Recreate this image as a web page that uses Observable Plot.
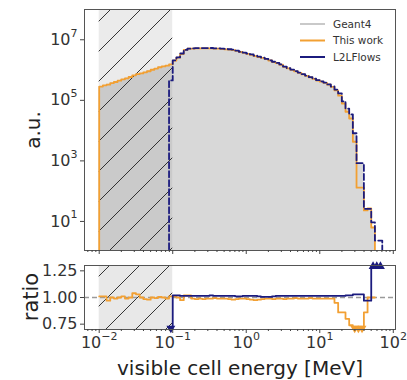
<!DOCTYPE html>
<html><head><meta charset="utf-8">
<script src="https://cdn.jsdelivr.net/npm/d3@7"></script>
<script src="https://cdn.jsdelivr.net/npm/@observablehq/plot@0.6"></script>
<style>
html,body{margin:0;padding:0;background:#fff;}
#fig{position:relative;width:407px;height:380px;overflow:hidden;font-family:"DejaVu Sans",sans-serif;color:#222;}
#fig svg{position:absolute;left:0;}
</style></head><body>
<svg width="0" height="0" style="position:absolute">
<defs>
<pattern id="hatch" patternUnits="userSpaceOnUse" width="30" height="30">
<path d="M-2,2 L2,-2 M0,30 L30,0 M28,32 L32,28" stroke="#2a2a2a" stroke-width="0.95" fill="none"/>
</pattern>
</defs></svg>
<div id="fig"></div>
<script>
// ---- binning (log bins, 20 per decade starting at 1e-2) ----
const binsPerDecade = 20;
const firstEdgeExp = -2;

// ---- Geant4 histogram, log10(counts) per bin ----
const g4Log = [5.45,5.49,5.53,5.57,5.61,5.65,5.69,5.73,5.77,5.81,5.85,5.89,5.93,5.97,6.01,6.05,6.09,6.12,6.15,6.18,
 6.31,6.41,6.54,6.66,6.70,6.71,6.72,6.72,6.72,6.72,6.72,6.71,6.71,6.70,6.69,6.68,6.67,6.64,6.60,6.57,
 6.54,6.51,6.47,6.44,6.41,6.37,6.32,6.27,6.23,6.18,6.11,6.06,6.01,5.96,5.91,5.86,5.81,5.76,5.71,5.66,
 5.62,5.58,5.52,5.45,5.35,5.22,4.96,4.72,4.53,3.90,2.91,2.91,1.43,1.43,0.80,0.00,0.00];

// ---- ratio to Geant4 per bin ----
const thisWorkRatio = [1.01,1.01,0.97,1.00,0.99,1.00,1.01,0.99,1.00,1.04,1.03,1.00,0.985,0.98,1.00,0.995,1.005,1.00,0.99,1.01,
 1.01,1.00,0.975,1.02,1.02,0.99,0.985,0.99,0.985,0.99,0.99,0.995,0.99,0.99,0.99,0.985,0.98,0.985,0.99,0.99,
 0.985,0.98,0.975,0.98,0.985,0.99,0.99,0.985,0.99,0.99,0.985,0.99,0.99,0.995,0.99,0.99,0.99,0.995,0.99,0.99,
 0.99,0.99,0.99,0.99,0.95,0.86,0.86,0.80,0.74,0.54,0.16,0.16,0.86,1.00,1.00,null,null];
const l2lRatio = [null,null,null,null,null,null,null,null,null,null,null,null,null,null,null,null,null,null,null,0.30,
 1.02,1.02,1.015,1.015,1.015,1.015,1.015,1.015,1.015,1.015,1.02,1.015,1.015,1.015,1.015,1.015,1.015,1.01,1.01,1.015,
 1.015,1.015,1.015,1.01,1.005,1.005,1.005,1.01,1.015,1.015,1.015,1.015,1.015,1.015,1.015,1.015,1.015,1.015,1.015,1.015,
 1.015,1.015,1.015,1.015,1.015,1.015,1.015,1.02,1.02,1.03,1.03,1.03,0.97,0.97,1.48,2.34,2.34];

// ---- axes / labels ----
const xMajor = [1e-2, 1e-1, 1e0, 1e1, 1e2];
const yMainTicks = [1e1, 1e3, 1e5, 1e7];
const yRatioTicks = [0.75, 1.00, 1.25];
const hatchRange = [{a: 1e-2, b: 1e-1}];
const legendItems = [
  {name: "Geant4", color: "#c9c9c9"},
  {name: "This work", color: "#f2a033"},
  {name: "L2LFlows", color: "#1b1b7e"}
];
const xLabel = "visible cell energy [MeV]";
const yLabelMain = "a.u.";
const yLabelRatio = "ratio";

const ORANGE = "#f2a033", NAVY = "#1b1b7e", G4FILL = "#d8d8d8";
const nBins = g4Log.length;
const edges = d3.range(nBins + 1).map(k => 10 ** (firstEdgeExp + k / binsPerDecade));
const g4 = g4Log.map(v => 10 ** v);
const tw = g4.map((v, k) => thisWorkRatio[k] == null ? null : v * thisWorkRatio[k]);
const l2l = g4.map((v, k) => l2lRatio[k] == null ? null : v * l2lRatio[k]);

function stepPoints(vals, floor) {
  const idx = vals.map((v, k) => v == null ? -1 : k).filter(k => k >= 0);
  const first = idx[0], last = idx[idx.length - 1];
  const pts = [];
  if (floor != null) pts.push({x: edges[first], y: floor});
  for (let k = first; k <= last; k++) pts.push({x: edges[k], y: vals[k]});
  pts.push({x: edges[last + 1], y: vals[last]});
  if (floor != null) pts.push({x: edges[last + 1], y: floor});
  return pts;
}
const pow10 = d => "10^" + String(Math.round(Math.log10(d))).replace("-", "\u2212");

const xDomain = [10 ** -2.2, 10 ** 2.03];
const xMinor = [];
for (let e = -3; e <= 2; e++) for (let m = 2; m <= 9; m++) {
  const v = m * 10 ** e; if (v > xDomain[0] && v < xDomain[1]) xMinor.push(v);
}
const floor = 1e-2;
const fig = document.getElementById("fig");
const style = {fontFamily: "DejaVu Sans, sans-serif", fontSize: "16px", color: "#333", background: "transparent", overflow: "visible"};

function superscripts(svg) {
  d3.select(svg).selectAll("text").each(function() {
    const t = this.textContent;
    const m = /^10\^(.+)$/.exec(t);
    if (!m) return;
    const sel = d3.select(this);
    sel.text("");
    sel.append("tspan").text("10");
    sel.append("tspan").attr("font-size", "11px").attr("dy", "-0.75em").text(m[1]);
  });
}

// ---- main panel ----
const main = Plot.plot({
  width: 407, height: 262,
  marginLeft: 84, marginRight: 12, marginTop: 9, marginBottom: 12,
  x: {type: "log", domain: xDomain},
  y: {type: "log", domain: [10 ** 0.04, 1e8]},
  style,
  marks: [
    Plot.areaY(stepPoints(g4, floor), {x: "x", y1: () => floor, y2: "y", curve: "step-after", fill: G4FILL, clip: true}),
    Plot.rect(hatchRange, {x1: "a", x2: "b", y1: () => floor, y2: () => 1e9, fill: "#8a8a8a", fillOpacity: 0.17, clip: true}),
    Plot.rect(hatchRange, {x1: "a", x2: "b", y1: () => floor, y2: () => 1e9, fill: "url(#hatch)", clip: true}),
    Plot.line(stepPoints(tw, floor), {x: "x", y: "y", curve: "step-after", stroke: ORANGE, strokeWidth: 1.8, clip: true}),
    Plot.line(stepPoints(l2l, floor), {x: "x", y: "y", curve: "step-after", stroke: NAVY, strokeWidth: 1.8, strokeDasharray: "6,3", clip: true}),
    Plot.frame({stroke: "#555"}),
    Plot.axisX({ticks: xMajor, tickSize: 4, tickFormat: () => "", label: null, stroke: "#444"}),
    Plot.axisX({ticks: xMinor, tickSize: 2, tickFormat: () => "", label: null, stroke: "#444"}),
    Plot.axisY({ticks: yMainTicks, tickSize: 4, tickPadding: 3, tickFormat: pow10, label: null, stroke: "#444"})
  ]
});
main.style.top = "0px";
superscripts(main);
fig.appendChild(main);

// ---- ratio panel ----
const lo = 0.715, hi = 1.29;
const clampVals = arr => arr.map(v => v == null ? null : Math.max(lo, Math.min(hi, v)));
const markers = (arr, color) => arr.map((v, k) => (v != null && (v < lo || v > hi)) ?
  {x: Math.sqrt(edges[k] * edges[k + 1]), y: v < lo ? 0.712 : 1.292, up: v > hi, color} : null).filter(d => d);
const ratioMarkers = [...markers(thisWorkRatio, ORANGE), ...markers(l2lRatio, NAVY)];

const ratio = Plot.plot({
  width: 407, height: 125,
  marginLeft: 84, marginRight: 12, marginTop: 10, marginBottom: 51,
  x: {type: "log", domain: xDomain},
  y: {domain: [0.7, 1.3]},
  style,
  marks: [
    Plot.rect(hatchRange, {x1: "a", x2: "b", y1: () => 0.6, y2: () => 1.4, fill: "#8a8a8a", fillOpacity: 0.2, clip: true}),
    Plot.rect(hatchRange, {x1: "a", x2: "b", y1: () => 0.6, y2: () => 1.4, fill: "url(#hatch)", clip: true}),
    Plot.ruleY([1], {stroke: "#9a9a9a", strokeWidth: 1.5, strokeDasharray: "5,3"}),
    Plot.line(stepPoints(clampVals(thisWorkRatio), null), {x: "x", y: "y", curve: "step-after", stroke: ORANGE, strokeWidth: 1.8, clip: true}),
    Plot.line(stepPoints(clampVals(l2lRatio), null), {x: "x", y: "y", curve: "step-after", stroke: NAVY, strokeWidth: 1.8, clip: true}),
    Plot.dot(ratioMarkers, {x: "x", y: "y", symbol: "triangle", r: 3.3, fill: "color", stroke: null, rotate: d => d.up ? 0 : 180}),
    Plot.frame({stroke: "#555"}),
    Plot.axisX({ticks: xMajor, tickSize: 4, tickPadding: 3, tickFormat: pow10, label: null, stroke: "#444"}),
    Plot.axisX({ticks: xMinor, tickSize: 2, tickFormat: () => "", label: null, stroke: "#444"}),
    Plot.axisY({ticks: yRatioTicks, tickSize: 4, tickPadding: 3, tickFormat: d3.format(".2f"), label: null, stroke: "#444"})
  ]
});
ratio.style.top = "255px";
superscripts(ratio);
fig.appendChild(ratio);

// ---- labels and legend overlay ----
const ov = d3.select(fig).append("svg").attr("width", 407).attr("height", 380)
  .style("top", "0px").style("pointer-events", "none")
  .attr("font-family", "DejaVu Sans, sans-serif").attr("fill", "#222");
ov.append("text").attr("x", 240).attr("y", 375).attr("text-anchor", "middle").attr("font-size", 20).text(xLabel);
ov.append("text").attr("transform", "translate(40,130) rotate(-90)").attr("text-anchor", "middle").attr("font-size", 20).text(yLabelMain);
ov.append("text").attr("transform", "translate(38,297) rotate(-90)").attr("text-anchor", "middle").attr("font-size", 21).text(yLabelRatio);
const lg = ov.append("g");
legendItems.forEach((d, i) => {
  const y = 24 + i * 16.5;
  lg.append("line").attr("x1", 300).attr("x2", 325).attr("y1", y).attr("y2", y).attr("stroke", d.color).attr("stroke-width", 2);
  lg.append("text").attr("x", 333).attr("y", y).attr("dy", "0.35em").attr("font-size", 10.5).attr("fill", "#333").text(d.name);
});
</script>
</body></html>
